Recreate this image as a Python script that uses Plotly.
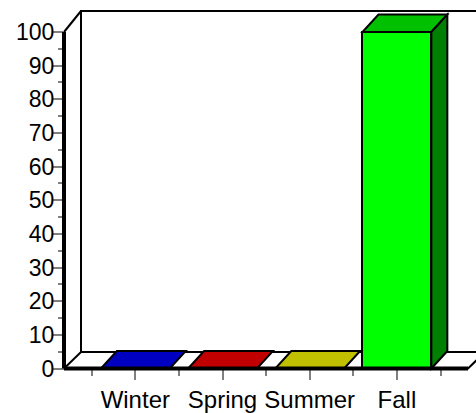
import plotly.graph_objects as go

# ---- data ----
categories = ["Winter", "Spring", "Summer", "Fall"]
values = [0, 0, 0, 100]
front_colors = ["#0000FF", "#FF0000", "#FFFF00", "#00FF00"]
top_colors = ["#0000C0", "#C00000", "#C0C000", "#00C000"]
side_colors = ["#000080", "#800000", "#808000", "#008000"]
y_tick_vals = list(range(0, 101, 10))
y_minor_vals = list(range(5, 100, 10))

# ---- geometry (pixel scale of the canvas) ----
W, H = 476, 413
PX_X = 87.2      # px per category step
X0_PX = 135.3    # pixel x of first category
PX_Y = 3.365     # px per value unit
Y0_PX = 368.5    # pixel y of value 0

x_range = [-X0_PX / PX_X, (W - X0_PX) / PX_X]
y_range = [-(H - Y0_PX) / PX_Y, Y0_PX / PX_Y]

ax_x = (64 - X0_PX) / PX_X           # front vertical axis position (data units)
floor_right = (468 - X0_PX) / PX_X   # end of front floor edge
dxw = 17 / PX_X                      # wall depth offset x
dyf = 16.5 / PX_Y                    # floor depth offset y
wall_top = (Y0_PX - 11) / PX_Y       # back wall top
dxb = 16 / PX_X                      # bar depth offset x
dyb = 17.5 / PX_Y                    # bar depth offset y
bar_w = 0.79

FONT = "Liberation Sans, Arial, sans-serif"

fig = go.Figure()
fig.add_trace(go.Bar(
    x=list(range(len(categories))), y=values, width=bar_w,
    marker=dict(color=front_colors, line=dict(color="black", width=2)),
    hoverinfo="skip", showlegend=False,
))

shapes = []
# floor
shapes.append(dict(
    type="path", xref="x", yref="y", layer="below",
    path=f"M {ax_x},0 L {floor_right},0 L {floor_right+dxw},{dyf} L {ax_x+dxw},{dyf} Z",
    fillcolor="white", line=dict(color="black", width=2)))
# back wall
shapes.append(dict(
    type="path", xref="x", yref="y", layer="below",
    path=f"M {ax_x+dxw},{dyf} L {ax_x+dxw},{wall_top} L {x_range[1]+1},{wall_top}",
    line=dict(color="black", width=2)))
shapes.append(dict(
    type="line", xref="x", yref="y", layer="below",
    x0=ax_x, y0=100, x1=ax_x + dxw, y1=wall_top,
    line=dict(color="black", width=2)))

# bar top and side faces
for i, v in enumerate(values):
    x0 = i - bar_w / 2
    x1 = i + bar_w / 2
    shapes.append(dict(
        type="path", xref="x", yref="y", layer="above",
        path=f"M {x0},{v} L {x1},{v} L {x1+dxb},{v+dyb} L {x0+dxb},{v+dyb} Z",
        fillcolor=top_colors[i], line=dict(color="black", width=2)))
    if v > 0:
        shapes.append(dict(
            type="path", xref="x", yref="y", layer="above",
            path=f"M {x1},0 L {x1+dxb},{dyb} L {x1+dxb},{v+dyb} L {x1},{v} Z",
            fillcolor=side_colors[i], line=dict(color="black", width=2)))

# thick front axes
shapes.append(dict(type="line", xref="x", yref="y", layer="above",
                   x0=ax_x, y0=0, x1=floor_right, y1=0,
                   line=dict(color="black", width=4)))
shapes.append(dict(type="line", xref="x", yref="y", layer="above",
                   x0=ax_x, y0=0, x1=ax_x, y1=100,
                   line=dict(color="black", width=4)))

fig.update_layout(
    width=W, height=H,
    margin=dict(l=0, r=0, t=0, b=0),
    paper_bgcolor="white", plot_bgcolor="white",
    shapes=shapes,
    bargap=0,
    xaxis=dict(
        domain=[0, 1], anchor="free", position=(H - Y0_PX) / H,
        range=x_range, tickmode="array",
        tickvals=list(range(len(categories))), ticktext=categories,
        ticks="outside", ticklen=10, tickwidth=2, tickcolor="#808080",
        minor=dict(tickmode="array", tickvals=[-0.5, 0.5, 1.5, 2.5, 3.5],
                   ticks="outside", ticklen=6, tickwidth=2, tickcolor="#808080"),
        showgrid=False, zeroline=False, showline=False,
        tickfont=dict(family=FONT, size=24, color="black"),
    ),
    yaxis=dict(
        domain=[0, 1], anchor="free", position=64 / W,
        range=y_range, tickmode="array", tickvals=y_tick_vals,
        ticks="outside", ticklen=11, tickwidth=2, tickcolor="#808080",
        ticklabelstandoff=-6,
        minor=dict(tickmode="array", tickvals=y_minor_vals,
                   ticks="outside", ticklen=6, tickwidth=2, tickcolor="#808080"),
        showgrid=False, zeroline=False, showline=False,
        tickfont=dict(family=FONT, size=23, color="black"),
    ),
)

fig.write_html(
    "out.html",
    config={"displayModeBar": False},
    post_script="document.body.style.margin='0';document.body.style.overflow='hidden';",
)
